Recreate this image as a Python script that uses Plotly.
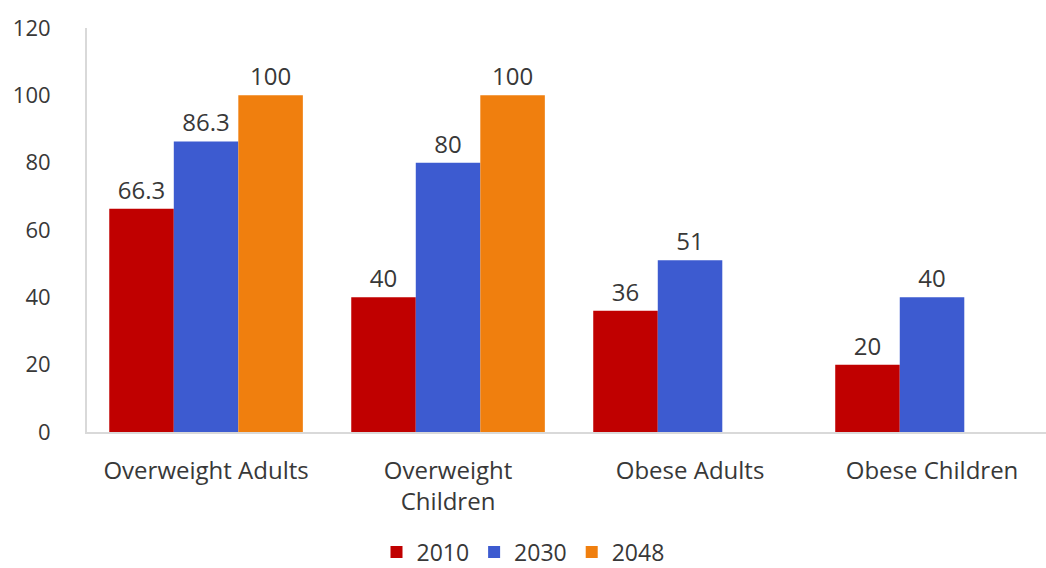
import plotly.graph_objects as go

categories = ["Overweight Adults", "Overweight<br>Children", "Obese Adults", "Obese Children"]
series_names = ["2010", "2030", "2048"]
values_2010 = [66.3, 40, 36, 20]
values_2030 = [86.3, 80, 51, 40]
values_2048 = [100, 100, None, None]
colors = ["#C00000", "#3D5BD0", "#F07F0E"]

series_values = [values_2010, values_2030, values_2048]
FONT = "Open Sans"
TXT = "#383838"

fig = go.Figure()
for name, vals, col in zip(series_names, series_values, colors):
    fig.add_trace(go.Bar(
        x=list(range(len(categories))),
        y=vals,
        name=name,
        marker=dict(color=col, line=dict(width=0)),
        text=[("" if v is None else f"{v:g}") for v in vals],
        textposition="outside",
        textfont=dict(family=FONT, size=24, color=TXT),
        cliponaxis=False,
    ))

fig.update_layout(
    width=1046, height=568,
    margin=dict(l=87, r=0, t=28, b=136),
    paper_bgcolor="white", plot_bgcolor="white",
    barmode="group", bargap=0.2, bargroupgap=0,
    font=dict(family=FONT, size=24, color=TXT),
    showlegend=True,
    legend=dict(
        orientation="h", xref="container", x=0.5, xanchor="center",
        yref="container", y=0.028, yanchor="middle",
        font=dict(family=FONT, size=23, color=TXT),
        itemwidth=30, traceorder="normal",
    ),
    xaxis=dict(
        range=[-0.492, 3.471],
        tickmode="array", tickvals=list(range(len(categories))), ticktext=categories,
        showline=True, linecolor="#D9D9D9", linewidth=2,
        showgrid=False, zeroline=False, ticks="",
        tickfont=dict(family=FONT, size=24, color=TXT),
        ticklabelstandoff=16,
    ),
    yaxis=dict(
        range=[0, 120], tickmode="array", tickvals=[0, 20, 40, 60, 80, 100, 120],
        showline=True, linecolor="#D9D9D9", linewidth=2,
        showgrid=False, zeroline=False, ticks="",
        tickfont=dict(family=FONT, size=22, color=TXT),
        ticklabelstandoff=30,
    ),
)

fig.write_html("out.html", config={"displayModeBar": False},
               post_script="document.body.style.margin='0';")
